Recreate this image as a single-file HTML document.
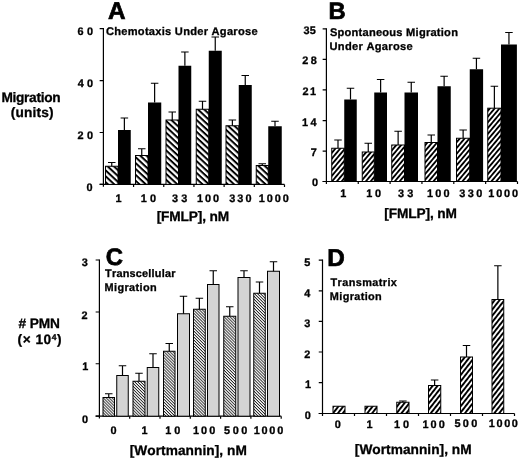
<!DOCTYPE html>
<html><head><meta charset="utf-8"><title>Figure</title>
<style>
html,body{margin:0;padding:0;background:#fff;}
svg{display:block;will-change:transform;}
text{font-family:"Liberation Sans",Arial,Helvetica,sans-serif;font-weight:bold;fill:#000;stroke:#000;stroke-width:0.3px;font-kerning:none;text-rendering:geometricPrecision;}
</style></head><body>
<svg width="520" height="459" viewBox="0 0 520 459">
<rect width="520" height="459" fill="#fff"/>
<defs>
<pattern id="hA" width="20" height="4.3" patternUnits="userSpaceOnUse" patternTransform="rotate(43)"><rect width="20" height="4.3" fill="#fff"/><rect y="0" width="20" height="2.0" fill="#000"/></pattern>
<pattern id="hB" width="20" height="3.7" patternUnits="userSpaceOnUse" patternTransform="rotate(-50)"><rect width="20" height="3.7" fill="#fff"/><rect y="0" width="20" height="1.85" fill="#000"/></pattern>
<pattern id="hD" width="20" height="3.85" patternUnits="userSpaceOnUse" patternTransform="rotate(-52)"><rect width="20" height="3.85" fill="#fff"/><rect y="0" width="20" height="1.95" fill="#000"/></pattern>
<pattern id="hC" width="20" height="2.1" patternUnits="userSpaceOnUse" patternTransform="rotate(45)"><rect width="20" height="2.1" fill="#fff"/><rect y="0" width="20" height="0.9" fill="#222"/></pattern>
</defs>
<path d="M103.4 28.049999999999997V186.8M99.65 184.4H284.5" fill="none" stroke="#000" stroke-width="1.2"/>
<path d="M99.65 28.65H103.4M99.65 80.6H103.4M99.65 132.5H103.4M99.65 184.4H103.4M133.58 184.4V187.0M163.76 184.4V187.0M193.94 184.4V187.0M224.12 184.4V187.0M254.30 184.4V187.0M284.48 184.4V187.0" fill="none" stroke="#000" stroke-width="1.2"/>
<rect x="105.5" y="166.25" width="12.50" height="18.15" fill="url(#hA)" stroke="#000" stroke-width="1"/>
<path d="M111.75 166.25V162.5M108.0 162.5H115.5" fill="none" stroke="#000" stroke-width="1.2"/>
<rect x="118" y="130" width="12.75" height="54.40" fill="#000"/>
<path d="M124.375 130V118M120.625 118H128.125" fill="none" stroke="#000" stroke-width="1.2"/>
<rect x="135.5" y="155.5" width="12.50" height="28.90" fill="url(#hA)" stroke="#000" stroke-width="1"/>
<path d="M141.75 155.5V148.75M138.0 148.75H145.5" fill="none" stroke="#000" stroke-width="1.2"/>
<rect x="148" y="102.5" width="13.25" height="81.90" fill="#000"/>
<path d="M154.625 102.5V83.25M150.875 83.25H158.375" fill="none" stroke="#000" stroke-width="1.2"/>
<rect x="166.0" y="120" width="12.50" height="64.40" fill="url(#hA)" stroke="#000" stroke-width="1"/>
<path d="M172.25 120V112M168.5 112H176.0" fill="none" stroke="#000" stroke-width="1.2"/>
<rect x="178.5" y="65.75" width="12.75" height="118.65" fill="#000"/>
<path d="M184.875 65.75V52M181.125 52H188.625" fill="none" stroke="#000" stroke-width="1.2"/>
<rect x="196.25" y="109.25" width="12.50" height="75.15" fill="url(#hA)" stroke="#000" stroke-width="1"/>
<path d="M202.5 109.25V101.25M198.75 101.25H206.25" fill="none" stroke="#000" stroke-width="1.2"/>
<rect x="208.75" y="50.75" width="13.00" height="133.65" fill="#000"/>
<path d="M215.25 50.75V37M211.5 37H219.0" fill="none" stroke="#000" stroke-width="1.2"/>
<rect x="226.0" y="125.75" width="12.75" height="58.65" fill="url(#hA)" stroke="#000" stroke-width="1"/>
<path d="M232.375 125.75V120M228.625 120H236.125" fill="none" stroke="#000" stroke-width="1.2"/>
<rect x="238.75" y="85" width="13.00" height="99.40" fill="#000"/>
<path d="M245.25 85V75.5M241.5 75.5H249.0" fill="none" stroke="#000" stroke-width="1.2"/>
<rect x="256.25" y="165.5" width="12.00" height="18.90" fill="url(#hA)" stroke="#000" stroke-width="1"/>
<path d="M262.25 165.5V163.75M258.5 163.75H266.0" fill="none" stroke="#000" stroke-width="1.2"/>
<rect x="268.25" y="126.25" width="13.50" height="58.15" fill="#000"/>
<path d="M275.0 126.25V121.25M271.25 121.25H278.75" fill="none" stroke="#000" stroke-width="1.2"/>
<text x="108.09" y="19.10" font-size="24.3" letter-spacing="0.000" style="stroke-width:0.7px">A</text>
<text x="105.94" y="34.90" font-size="11.1" letter-spacing="0.268">Chemotaxis Under Agarose</text>
<text x="77.60" y="34.90" font-size="10.9" letter-spacing="3.322">60</text>
<text x="77.84" y="87.40" font-size="10.9" letter-spacing="3.088">40</text>
<text x="77.62" y="138.90" font-size="10.9" letter-spacing="3.301">20</text>
<text x="86.57" y="191.20" font-size="10.9" letter-spacing="0.000">0</text>
<text x="115.51" y="202.00" font-size="10.9" letter-spacing="0.000">1</text>
<text x="140.71" y="202.00" font-size="10.9" letter-spacing="3.310">10</text>
<text x="171.95" y="202.00" font-size="10.9" letter-spacing="3.220">33</text>
<text x="196.91" y="202.00" font-size="10.9" letter-spacing="2.024">100</text>
<text x="229.15" y="202.00" font-size="10.9" letter-spacing="2.156">330</text>
<text x="258.81" y="202.00" font-size="10.9" letter-spacing="1.895">1000</text>
<text x="156.63" y="221.40" font-size="13.7" letter-spacing="-0.124">[FMLP], nM</text>
<text x="1.38" y="102.00" font-size="13.7" letter-spacing="-0.297">Migration</text>
<text x="10.82" y="117.00" font-size="13.7" letter-spacing="0.136">(units)</text>
<path d="M326.4 28.299999999999997V183.9M322.65 181.5H517.5" fill="none" stroke="#000" stroke-width="1.2"/>
<path d="M322.65 28.9H326.4M322.65 59.3H326.4M322.65 89.8H326.4M322.65 120.7H326.4M322.65 151.2H326.4M322.65 181.5H326.4M358.25 181.5V184.1M390.10 181.5V184.1M421.95 181.5V184.1M453.80 181.5V184.1M485.65 181.5V184.1M517.50 181.5V184.1" fill="none" stroke="#000" stroke-width="1.2"/>
<rect x="331.75" y="148.25" width="12.50" height="33.25" fill="url(#hB)" stroke="#000" stroke-width="1"/>
<path d="M338.0 148.25V140M334.25 140H341.75" fill="none" stroke="#000" stroke-width="1.2"/>
<rect x="344.25" y="99.5" width="12.50" height="82.00" fill="#000"/>
<path d="M350.5 99.5V88.25M346.75 88.25H354.25" fill="none" stroke="#000" stroke-width="1.2"/>
<rect x="362.25" y="152" width="12.00" height="29.50" fill="url(#hB)" stroke="#000" stroke-width="1"/>
<path d="M368.25 152V143.25M364.5 143.25H372.0" fill="none" stroke="#000" stroke-width="1.2"/>
<rect x="374.25" y="92.5" width="12.75" height="89.00" fill="#000"/>
<path d="M380.625 92.5V79.5M376.875 79.5H384.375" fill="none" stroke="#000" stroke-width="1.2"/>
<rect x="391.75" y="145" width="12.75" height="36.50" fill="url(#hB)" stroke="#000" stroke-width="1"/>
<path d="M398.125 145V131.25M394.375 131.25H401.875" fill="none" stroke="#000" stroke-width="1.2"/>
<rect x="404.5" y="92.5" width="13.50" height="89.00" fill="#000"/>
<path d="M411.25 92.5V82.25M407.5 82.25H415.0" fill="none" stroke="#000" stroke-width="1.2"/>
<rect x="425.0" y="142.5" width="12.50" height="39.00" fill="url(#hB)" stroke="#000" stroke-width="1"/>
<path d="M431.25 142.5V135M427.5 135H435.0" fill="none" stroke="#000" stroke-width="1.2"/>
<rect x="437.5" y="86.25" width="13.25" height="95.25" fill="#000"/>
<path d="M444.125 86.25V76.25M440.375 76.25H447.875" fill="none" stroke="#000" stroke-width="1.2"/>
<rect x="456.5" y="138.25" width="13.25" height="43.25" fill="url(#hB)" stroke="#000" stroke-width="1"/>
<path d="M463.125 138.25V130M459.375 130H466.875" fill="none" stroke="#000" stroke-width="1.2"/>
<rect x="469.75" y="69.25" width="13.35" height="112.25" fill="#000"/>
<path d="M476.425 69.25V58.25M472.675 58.25H480.175" fill="none" stroke="#000" stroke-width="1.2"/>
<rect x="487.75" y="108.2" width="13.25" height="73.30" fill="url(#hB)" stroke="#000" stroke-width="1"/>
<path d="M494.375 108.2V86.25M490.625 86.25H498.125" fill="none" stroke="#000" stroke-width="1.2"/>
<rect x="501" y="44.5" width="15.90" height="137.00" fill="#000"/>
<path d="M508.95 44.5V32.5M505.2 32.5H512.7" fill="none" stroke="#000" stroke-width="1.2"/>
<text x="328.41" y="19.00" font-size="23.8" letter-spacing="0.000" style="stroke-width:0.7px">B</text>
<text x="329.88" y="36.30" font-size="11.1" letter-spacing="0.239">Spontaneous Migration</text>
<text x="329.53" y="49.80" font-size="11.1" letter-spacing="0.298">Under Agarose</text>
<text x="303.55" y="33.80" font-size="10.9" letter-spacing="0.229">35</text>
<text x="302.32" y="64.00" font-size="10.9" letter-spacing="2.489">28</text>
<text x="302.62" y="94.60" font-size="10.9" letter-spacing="1.357">21</text>
<text x="302.01" y="125.50" font-size="10.9" letter-spacing="2.521">14</text>
<text x="310.73" y="156.30" font-size="10.9" letter-spacing="0.000">7</text>
<text x="311.97" y="186.40" font-size="10.9" letter-spacing="0.000">0</text>
<text x="340.21" y="196.80" font-size="10.9" letter-spacing="0.000">1</text>
<text x="366.31" y="196.80" font-size="10.9" letter-spacing="2.710">10</text>
<text x="397.95" y="196.80" font-size="10.9" letter-spacing="3.320">33</text>
<text x="427.11" y="196.80" font-size="10.9" letter-spacing="2.124">100</text>
<text x="459.25" y="196.80" font-size="10.9" letter-spacing="2.406">330</text>
<text x="488.31" y="196.80" font-size="10.9" letter-spacing="1.828">1000</text>
<text x="384.33" y="218.40" font-size="13.7" letter-spacing="-0.124">[FMLP], nM</text>
<path d="M99.4 259.4V418.59999999999997M95.65 416.2H281.25" fill="none" stroke="#000" stroke-width="1.2"/>
<path d="M95.65 260H99.4M95.65 312H99.4M95.65 363.75H99.4M95.65 416.2H99.4M129.70 416.2V418.8M160.00 416.2V418.8M190.30 416.2V418.8M220.60 416.2V418.8M250.90 416.2V418.8M281.20 416.2V418.8" fill="none" stroke="#000" stroke-width="1.2"/>
<rect x="103.0" y="397.5" width="11.50" height="18.70" fill="url(#hC)" stroke="#000" stroke-width="1"/>
<path d="M108.75 397.5V393.75M105.0 393.75H112.5" fill="none" stroke="#000" stroke-width="1.2"/>
<rect x="116.75" y="375.5" width="11.50" height="40.70" fill="#d4d4d4" stroke="#000" stroke-width="1"/>
<path d="M122.5 375.5V365.75M118.75 365.75H126.25" fill="none" stroke="#000" stroke-width="1.2"/>
<rect x="133.0" y="381.25" width="12.00" height="34.95" fill="url(#hC)" stroke="#000" stroke-width="1"/>
<path d="M139.0 381.25V373.25M135.25 373.25H142.75" fill="none" stroke="#000" stroke-width="1.2"/>
<rect x="147.25" y="367.5" width="11.50" height="48.70" fill="#d4d4d4" stroke="#000" stroke-width="1"/>
<path d="M153.0 367.5V353.75M149.25 353.75H156.75" fill="none" stroke="#000" stroke-width="1.2"/>
<rect x="163.5" y="351.25" width="11.50" height="64.95" fill="url(#hC)" stroke="#000" stroke-width="1"/>
<path d="M169.25 351.25V343.5M165.5 343.5H173.0" fill="none" stroke="#000" stroke-width="1.2"/>
<rect x="177.5" y="313.75" width="12.00" height="102.45" fill="#d4d4d4" stroke="#000" stroke-width="1"/>
<path d="M183.5 313.75V296.25M179.75 296.25H187.25" fill="none" stroke="#000" stroke-width="1.2"/>
<rect x="193.5" y="309.25" width="11.75" height="106.95" fill="url(#hC)" stroke="#000" stroke-width="1"/>
<path d="M199.375 309.25V298.25M195.625 298.25H203.125" fill="none" stroke="#000" stroke-width="1.2"/>
<rect x="207.5" y="284.5" width="11.50" height="131.70" fill="#d4d4d4" stroke="#000" stroke-width="1"/>
<path d="M213.25 284.5V270.75M209.5 270.75H217.0" fill="none" stroke="#000" stroke-width="1.2"/>
<rect x="223.75" y="316.25" width="12.00" height="99.95" fill="url(#hC)" stroke="#000" stroke-width="1"/>
<path d="M229.75 316.25V306.75M226.0 306.75H233.5" fill="none" stroke="#000" stroke-width="1.2"/>
<rect x="238.0" y="277.5" width="12.00" height="138.70" fill="#d4d4d4" stroke="#000" stroke-width="1"/>
<path d="M244.0 277.5V270.75M240.25 270.75H247.75" fill="none" stroke="#000" stroke-width="1.2"/>
<rect x="253.75" y="293.25" width="11.50" height="122.95" fill="url(#hC)" stroke="#000" stroke-width="1"/>
<path d="M259.5 293.25V282M255.75 282H263.25" fill="none" stroke="#000" stroke-width="1.2"/>
<rect x="267.5" y="271.25" width="12.00" height="144.95" fill="#d4d4d4" stroke="#000" stroke-width="1"/>
<path d="M273.5 271.25V261.75M269.75 261.75H277.25" fill="none" stroke="#000" stroke-width="1.2"/>
<text x="105.82" y="264.90" font-size="23.8" letter-spacing="0.000" style="stroke-width:0.7px">C</text>
<text x="105.08" y="277.30" font-size="10.9" letter-spacing="0.211">Transcellular</text>
<text x="104.47" y="291.30" font-size="10.9" letter-spacing="0.408">Migration</text>
<text x="81.75" y="266.30" font-size="10.9" letter-spacing="0.000">3</text>
<text x="81.62" y="318.50" font-size="10.9" letter-spacing="0.000">2</text>
<text x="82.31" y="370.30" font-size="10.9" letter-spacing="0.000">1</text>
<text x="82.07" y="422.50" font-size="10.9" letter-spacing="0.000">0</text>
<text x="110.57" y="433.50" font-size="10.9" letter-spacing="0.000">0</text>
<text x="141.51" y="433.50" font-size="10.9" letter-spacing="0.000">1</text>
<text x="165.21" y="433.50" font-size="10.9" letter-spacing="3.010">10</text>
<text x="192.91" y="433.50" font-size="10.9" letter-spacing="2.124">100</text>
<text x="223.96" y="433.50" font-size="10.9" letter-spacing="2.648">500</text>
<text x="253.81" y="433.50" font-size="10.9" letter-spacing="1.728">1000</text>
<text x="129.63" y="455.00" font-size="13.7" letter-spacing="0.064">[Wortmannin], nM</text>
<text x="18.47" y="328.20" font-size="13.7" letter-spacing="-0.078"># PMN</text>
<text x="17.6" y="344.2" font-size="13.7" letter-spacing="0.5">(× 10<tspan font-size="8.5" dy="-4.6">4</tspan><tspan dy="4.6">)</tspan></text>
<path d="M322.5 259.59999999999997V415.9M318.75 413.5H514.5" fill="none" stroke="#000" stroke-width="1.2"/>
<path d="M318.75 260.2H322.5M318.75 290.8H322.5M318.75 321.4H322.5M318.75 352H322.5M318.75 382.7H322.5M318.75 413.5H322.5M354.50 413.5V416.1M386.50 413.5V416.1M418.50 413.5V416.1M450.50 413.5V416.1M482.50 413.5V416.1M514.50 413.5V416.1" fill="none" stroke="#000" stroke-width="1.2"/>
<rect x="333.0" y="406.25" width="12.00" height="7.25" fill="url(#hD)" stroke="#000" stroke-width="1"/>
<rect x="365.0" y="406.25" width="12.00" height="7.25" fill="url(#hD)" stroke="#000" stroke-width="1"/>
<rect x="396.75" y="402.25" width="12.25" height="11.25" fill="url(#hD)" stroke="#000" stroke-width="1"/>
<path d="M402.875 402.25V401M399.125 401H406.625" fill="none" stroke="#000" stroke-width="1.2"/>
<rect x="428.5" y="385.5" width="12.25" height="28.00" fill="url(#hD)" stroke="#000" stroke-width="1"/>
<path d="M434.625 385.5V380M430.875 380H438.375" fill="none" stroke="#000" stroke-width="1.2"/>
<rect x="460.5" y="357" width="12.00" height="56.50" fill="url(#hD)" stroke="#000" stroke-width="1"/>
<path d="M466.5 357V345.5M462.75 345.5H470.25" fill="none" stroke="#000" stroke-width="1.2"/>
<rect x="492.0" y="299.5" width="11.75" height="114.00" fill="url(#hD)" stroke="#000" stroke-width="1"/>
<path d="M497.875 299.5V265.75M494.125 265.75H501.625" fill="none" stroke="#000" stroke-width="1.2"/>
<text x="327.17" y="265.90" font-size="24.3" letter-spacing="0.000" style="stroke-width:0.7px">D</text>
<text x="330.48" y="285.60" font-size="10.9" letter-spacing="0.410">Transmatrix</text>
<text x="329.87" y="299.60" font-size="10.9" letter-spacing="0.358">Migration</text>
<text x="304.26" y="265.60" font-size="10.9" letter-spacing="0.000">5</text>
<text x="304.14" y="297.00" font-size="10.9" letter-spacing="0.000">4</text>
<text x="304.35" y="327.00" font-size="10.9" letter-spacing="0.000">3</text>
<text x="304.22" y="357.60" font-size="10.9" letter-spacing="0.000">2</text>
<text x="304.91" y="388.10" font-size="10.9" letter-spacing="0.000">1</text>
<text x="304.67" y="419.30" font-size="10.9" letter-spacing="0.000">0</text>
<text x="334.77" y="428.10" font-size="10.9" letter-spacing="0.000">0</text>
<text x="366.61" y="428.10" font-size="10.9" letter-spacing="0.000">1</text>
<text x="394.11" y="428.10" font-size="10.9" letter-spacing="2.810">10</text>
<text x="422.41" y="427.80" font-size="10.9" letter-spacing="2.124">100</text>
<text x="454.46" y="427.40" font-size="10.9" letter-spacing="2.348">500</text>
<text x="488.71" y="427.30" font-size="10.9" letter-spacing="1.662">1000</text>
<text x="354.83" y="454.30" font-size="13.7" letter-spacing="0.031">[Wortmannin], nM</text>
</svg>
</body></html>
